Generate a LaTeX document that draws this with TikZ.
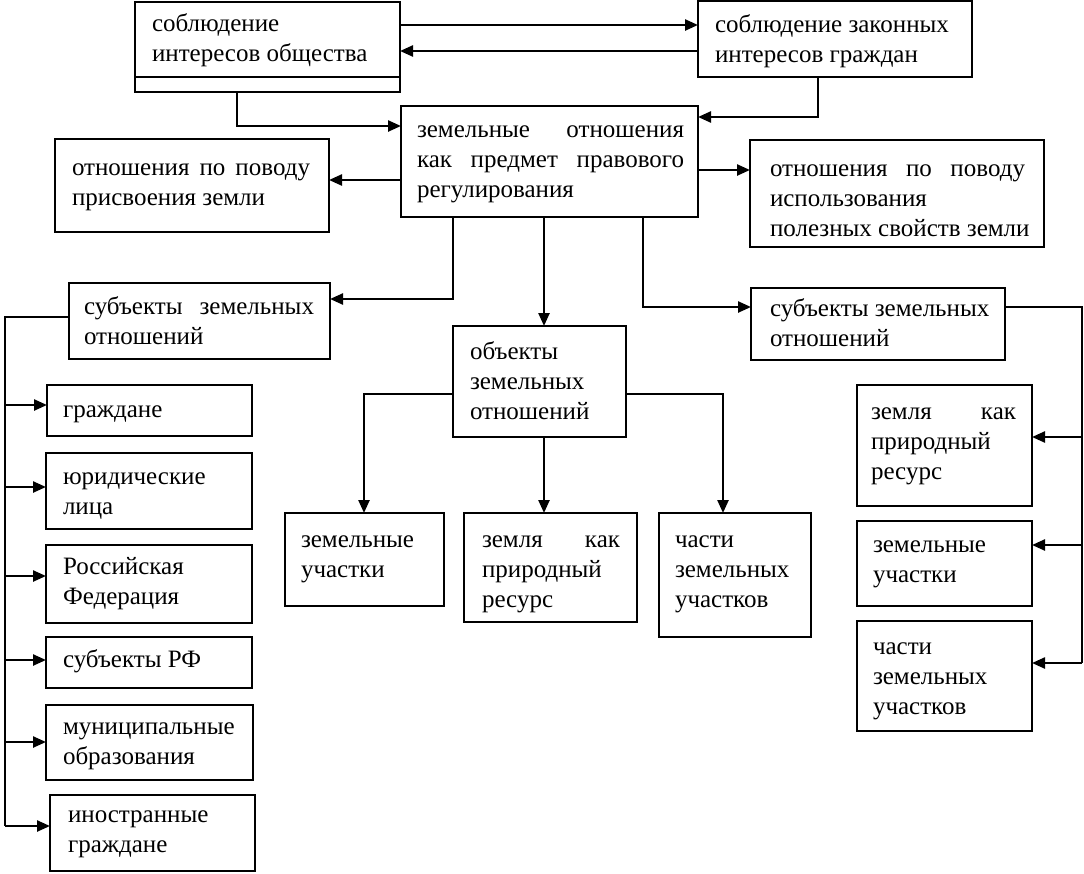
\documentclass[tikz,border=0pt]{standalone}
\usepackage{fontspec}
\setmainfont{Liberation Serif}
\usetikzlibrary{arrows.meta}
\tikzset{
  bx/.style={draw, line width=2.4pt, inner sep=0pt, outer sep=0pt, anchor=north west},
  tx/.style={inner sep=0pt, outer sep=0pt, anchor=north west, align=left, font=\fontsize{25}{30}\selectfont},
  ln/.style={line width=2.4pt},
  ar/.style={line width=2.4pt, -{Triangle[length=13pt,width=11pt]}},
}
\newcommand\mkbox[8]{%
  \node[bx, minimum width=#4pt, minimum height=#5pt] (#1) at (#2,#3) {};
  \node[tx] (#1t) at ([shift={(#6,#7+1.5)}]#1.north west) {\strut #8};
}
\begin{document}
\begin{tikzpicture}[x=1pt,y=-1pt]
\useasboundingbox (0,0) rectangle (1084,873);
% top row
\mkbox{A}{135}{2}{265}{90}{17}{7}{соблюдение\\интересов общества}
\draw[line width=2.4pt] ([shift={(0,-15)}]A.south west) -- ([shift={(0,-15)}]A.south east);
\mkbox{B}{698}{1}{274}{76}{17}{8.6}{соблюдение законных\\интересов граждан}
% centre
\mkbox{C}{401}{106}{297}{111}{16}{8.6}{\makebox[267pt][s]{земельные отношения}\\\makebox[267pt][s]{как предмет правового}\\регулирования}
\mkbox{D}{55}{139}{274}{93}{17}{13.6}{\makebox[238pt][s]{отношения по поводу}\\присвоения земли}
\mkbox{E}{750}{140}{294}{107}{20}{13.6}{\makebox[255pt][s]{отношения по поводу}\\использования\\полезных свойств земли}
\mkbox{F}{69}{283}{261}{76}{15}{8.6}{\makebox[230pt][s]{субъекты земельных}\\отношений}
\mkbox{G}{453}{326}{173}{111}{17}{10.6}{объекты\\земельных\\отношений}
\mkbox{H}{751}{288}{254}{72}{19}{5.6}{субъекты земельных\\отношений}
% left column
\mkbox{La}{47}{385}{205}{51}{16}{9.6}{граждане}
\mkbox{Lb}{46}{453}{206}{76}{17}{8.6}{юридические\\лица}
\mkbox{Lc}{46}{545}{206}{78}{17}{6.6}{Российская\\Федерация}
\mkbox{Ld}{46}{637}{206}{51}{17}{7.6}{субъекты РФ}
\mkbox{Le}{46}{705}{207}{75}{17}{6.6}{муниципальные\\образования}
\mkbox{Lf}{50}{795}{205}{76}{18}{4.6}{иностранные\\граждане}
% objects
\mkbox{I}{285}{513}{159}{93}{16}{11.6}{земельные\\участки}
\mkbox{J}{464}{513}{173}{109}{18}{11.6}{\makebox[138pt][s]{земля как}\\природный\\ресурс}
\mkbox{K}{659}{513}{152}{124}{16}{11.6}{части\\земельных\\участков}
% right column
\mkbox{Ra}{857}{385}{175}{121}{14}{11.6}{\makebox[145pt][s]{земля как}\\природный\\ресурс}
\mkbox{Rb}{857}{521}{175}{85}{16}{8.6}{земельные\\участки}
\mkbox{Rc}{857}{621}{175}{110}{16}{10.6}{части\\земельных\\участков}

% connectors top
\draw[ar] ([shift={(0,23)}]A.north east) -- ([shift={(0,24)}]B.north west);
\draw[ar] ([shift={(0,50)}]B.north west) -- ([shift={(0,49)}]A.north east);
\draw[ar] ([shift={(102,0)}]A.south west) |- ([shift={(0,20)}]C.north west);
\draw[ar] ([shift={(120,0)}]B.south west) |- ([shift={(0,11)}]C.north east);
\draw[ar] ([shift={(0,74)}]C.north west) -- ([shift={(0,41)}]D.north east);
\draw[ar] ([shift={(0,64)}]C.north east) -- ([shift={(0,30)}]E.north west);
\draw[ar] ([shift={(52,0)}]C.south west) |- ([shift={(0,16)}]F.north east);
\draw[ar] ([shift={(143,0)}]C.south west) -- ([shift={(91,0)}]G.north west);
\draw[ar] ([shift={(242,0)}]C.south west) |- ([shift={(0,19)}]H.north west);
% left bus
\draw[ln] ([shift={(0,34)}]F.north west) -| ([shift={(-45,31)}]Lf.north west);
\draw[ar] ([shift={(-42,20)}]La.north west) -- ([shift={(0,20)}]La.north west);
\draw[ar] ([shift={(-41,34)}]Lb.north west) -- ([shift={(0,34)}]Lb.north west);
\draw[ar] ([shift={(-41,31)}]Lc.north west) -- ([shift={(0,31)}]Lc.north west);
\draw[ar] ([shift={(-41,23)}]Ld.north west) -- ([shift={(0,23)}]Ld.north west);
\draw[ar] ([shift={(-41,37)}]Le.north west) -- ([shift={(0,37)}]Le.north west);
\draw[ar] ([shift={(-45,31)}]Lf.north west) -- ([shift={(0,31)}]Lf.north west);
% objects
\draw[ar] ([shift={(0,68)}]G.north west) -| ([shift={(79,0)}]I.north west);
\draw[ar] ([shift={(91,0)}]G.south west) -- ([shift={(80,0)}]J.north west);
\draw[ar] ([shift={(0,68)}]G.north east) -| ([shift={(64,0)}]K.north west);
% right bus
\draw[ln] ([shift={(0,19)}]H.north east) -| ([shift={(50,42)}]Rc.north east);
\draw[ar] ([shift={(50,52)}]Ra.north east) -- ([shift={(0,52)}]Ra.north east);
\draw[ar] ([shift={(50,24)}]Rb.north east) -- ([shift={(0,24)}]Rb.north east);
\draw[ar] ([shift={(50,42)}]Rc.north east) -- ([shift={(0,42)}]Rc.north east);
\end{tikzpicture}
\end{document}
